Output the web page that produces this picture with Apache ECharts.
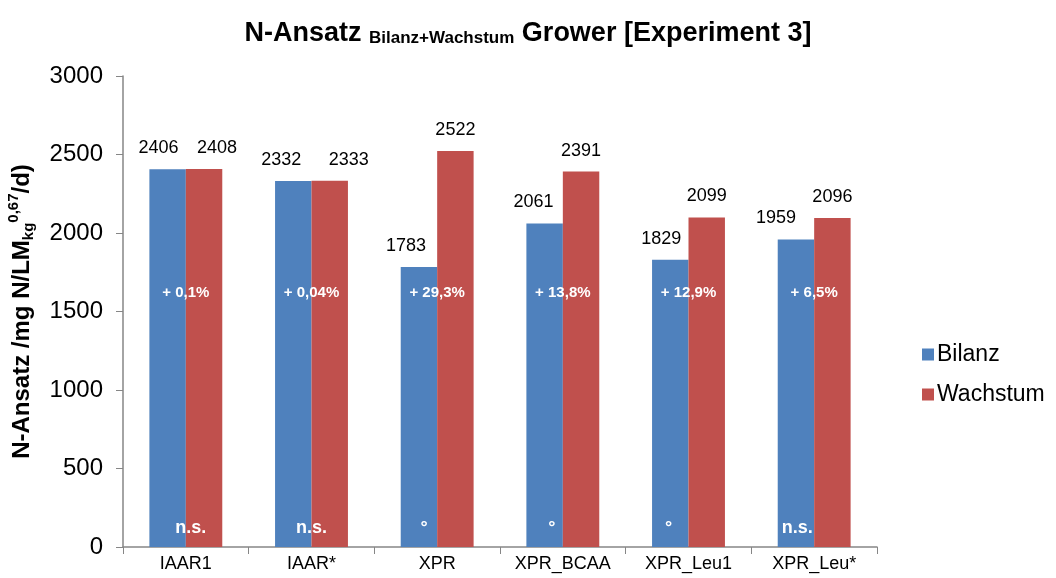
<!DOCTYPE html>
<html>
<head>
<meta charset="utf-8">
<script src="https://cdn.jsdelivr.net/npm/echarts@6/dist/echarts.min.js"></script>
<style>
  html, body { margin: 0; padding: 0; background: #fff; }
  #chart { width: 1056px; height: 578px; }
</style>
</head>
<body>
<div id="chart"></div>
<script>
const categories = ['IAAR1', 'IAAR*', 'XPR', 'XPR_BCAA', 'XPR_Leu1', 'XPR_Leu*']
const bilanz = [2406, 2332, 1783, 2061, 1829, 1959]
const wachstum = [2408, 2333, 2522, 2391, 2099, 2096]
const diffLabels = ['+ 0,1%', '+ 0,04%', '+ 29,3%', '+ 13,8%', '+ 12,9%', '+ 6,5%']
const sigLabels = ['n.s.', 'n.s.', '°', '°', '°', 'n.s.']
const yTicks = [0, 500, 1000, 1500, 2000, 2500, 3000]

// hand placed labels in the original, nudged a bit (px)
const bilanzNudge = [-9, -12, -13, -11, -9, -20]
const wachstumNudge = [13, 19, 0, 0, 0, 0]
const sigNudge = [5, 0, -13, -11, -20, -17]

const FONT = '"Liberation Sans", Arial, sans-serif'
const chart = echarts.init(document.getElementById('chart'))

function barData (values, nudge) {
  return values.map((v, i) => ({
    value: v,
    label: { offset: [nudge[i], 0] }
  }))
}

const bold = (size, extra) => Object.assign({ fontFamily: FONT, fontSize: size, fontWeight: 'bold', color: '#000' }, extra)

// white text written into the bars, placed through the axes
function textSeries (name, texts, yValue, size, nudge) {
  return {
    name,
    type: 'custom',
    silent: true,
    z: 5,
    data: texts.map((t, i) => [i, yValue]),
    renderItem (params, api) {
      const p = api.coord([api.value(0), api.value(1)])
      const i = params.dataIndex
      return {
        type: 'text',
        x: p[0] + (nudge ? nudge[i] : 0),
        y: p[1],
        style: {
          text: texts[i],
          fill: '#fff',
          font: 'bold ' + size + 'px ' + FONT,
          align: 'center',
          verticalAlign: 'middle'
        }
      }
    }
  }
}

const option = {
  animation: false,
  textStyle: { fontFamily: FONT },
  title: {
    text: '{m|N-Ansatz }{s|Bilanz+Wachstum}{m| Grower [Experiment 3]}',
    left: 'center',
    top: 10,
    textStyle: {
      rich: {
        m: bold(27, { verticalAlign: 'bottom', lineHeight: 32 }),
        s: bold(17, { verticalAlign: 'bottom', lineHeight: 26 })
      }
    }
  },
  legend: {
    orient: 'vertical',
    left: 917,
    top: 338,
    itemWidth: 12,
    itemHeight: 12,
    itemGap: 17,
    icon: 'rect',
    data: ['Bilanz', 'Wachstum'],
    textStyle: { fontFamily: FONT, fontSize: 23, color: '#000', padding: [0, 0, 0, -2] }
  },
  grid: { left: 123, right: 179, top: 76, bottom: 31, outerBoundsMode: 'none' },
  xAxis: {
    type: 'category',
    data: categories,
    axisLine: { lineStyle: { color: '#868686', width: 1.5 } },
    axisTick: { show: true, length: 7, lineStyle: { color: '#868686' } },
    axisLabel: { fontFamily: FONT, fontSize: 18, color: '#000', margin: 8 }
  },
  yAxis: {
    type: 'value',
    min: yTicks[0],
    max: yTicks[yTicks.length - 1],
    interval: 500,
    splitLine: { show: false },
    axisLine: { show: true, lineStyle: { color: '#868686', width: 1.5 } },
    axisTick: { show: true, length: 7, lineStyle: { color: '#868686' } },
    axisLabel: { fontFamily: FONT, fontSize: 24, color: '#000', margin: 20, formatter: v => String(v) },
    name: '{m|N-Ansatz /mg N/LM}{s|kg}{p|0,67}{m|/d)}',
    nameLocation: 'middle',
    nameRotate: 90,
    nameGap: 84,
    nameTextStyle: {
      rich: {
        m: bold(24, { lineHeight: 32, verticalAlign: 'middle' }),
        s: bold(15, { lineHeight: 32, verticalAlign: 'bottom', padding: [0, 0, 2, 0] }),
        p: bold(15, { lineHeight: 32, verticalAlign: 'top' })
      }
    }
  },
  series: [
    {
      name: 'Bilanz',
      type: 'bar',
      data: barData(bilanz, bilanzNudge),
      barGap: '0%',
      barCategoryGap: '42%',
      itemStyle: { color: '#4F81BD' },
      label: { show: true, position: 'top', distance: 12, fontFamily: FONT, fontSize: 18, color: '#000' }
    },
    {
      name: 'Wachstum',
      type: 'bar',
      data: barData(wachstum, wachstumNudge),
      barGap: '0%',
      barCategoryGap: '42%',
      itemStyle: { color: '#C0504D' },
      label: { show: true, position: 'top', distance: 12, fontFamily: FONT, fontSize: 18, color: '#000' }
    },
    textSeries('diff', diffLabels, 1620, 15, null),
    textSeries('sig', sigLabels, 122, 18, sigNudge)
  ]
}

chart.setOption(option)
</script>
</body>
</html>
